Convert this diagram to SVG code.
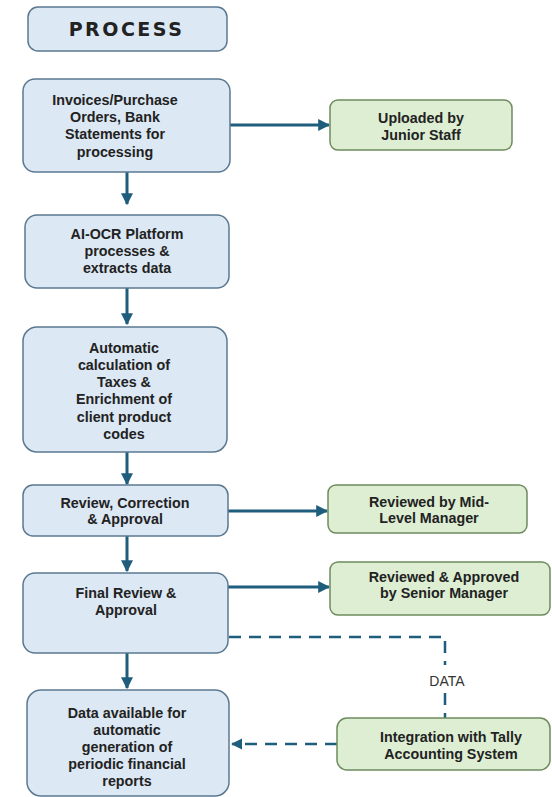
<svg xmlns="http://www.w3.org/2000/svg" width="552" height="797" viewBox="0 0 552 797">
<style>
.blue{fill:#dce8f4;stroke:#5b7891;stroke-width:1.5}
.green{fill:#ddeed2;stroke:#6e8b5e;stroke-width:1.5}
text{font-family:"Liberation Sans",Arial,sans-serif;font-weight:bold;font-size:14.3px;fill:#222;text-anchor:middle}
.title{font-family:"DejaVu Sans","Liberation Sans",sans-serif;font-size:19px;letter-spacing:2.5px}
.lbl{font-weight:normal;font-size:14px;fill:#333}
.arr{stroke:#1f5d7d;stroke-width:3;fill:none}
.dash{stroke:#1f5d7d;stroke-width:2.5;fill:none;stroke-dasharray:12 8}
</style>
<defs>
<marker id="ah" viewBox="0 0 10 10" refX="9" refY="5" markerWidth="4" markerHeight="4" orient="auto" markerUnits="strokeWidth">
<path d="M0,0 L10,5 L0,10 z" fill="#1f5d7d"/>
</marker>
<marker id="ah2" viewBox="0 0 10 10" refX="9" refY="5" markerWidth="4.5" markerHeight="4.5" orient="auto" markerUnits="strokeWidth">
<path d="M0,0 L10,5 L0,10 z" fill="#1f5d7d"/>
</marker>
</defs>
<rect width="552" height="797" fill="#fff"/>
<g id="connectors">
<line class="arr" x1="127" y1="172" x2="127" y2="204" marker-end="url(#ah)"/>
<line class="arr" x1="230" y1="125" x2="329" y2="125" marker-end="url(#ah)"/>
<line class="arr" x1="127" y1="288" x2="127" y2="324" marker-end="url(#ah)"/>
<line class="arr" x1="127" y1="452" x2="127" y2="484" marker-end="url(#ah)"/>
<line class="arr" x1="228" y1="511" x2="327" y2="511" marker-end="url(#ah)"/>
<line class="arr" x1="127" y1="536" x2="127" y2="571" marker-end="url(#ah)"/>
<line class="arr" x1="228" y1="587" x2="329" y2="587" marker-end="url(#ah)"/>
<line class="arr" x1="127" y1="653" x2="127" y2="688" marker-end="url(#ah)"/>
<path class="dash" d="M229,637 H445 V665"/>
<path class="dash" d="M445,693 V718"/>
<text class="lbl" x="447" y="686">DATA</text>
<line class="dash" x1="337" y1="744" x2="232" y2="744" marker-end="url(#ah2)"/>
</g>
<g id="process">
<rect class="blue" x="28" y="7" width="199" height="44" rx="10"/>
<text class="title" x="126.5" y="36">PROCESS</text>
</g>
<g id="invoices">
<rect class="blue" x="23" y="79" width="207" height="93" rx="12"/>
<text x="115" y="105">Invoices/Purchase</text>
<text x="115" y="122">Orders, Bank</text>
<text x="115" y="139">Statements for</text>
<text x="115" y="157">processing</text>
</g>
<g id="uploaded">
<rect class="green" x="330" y="100" width="182" height="50" rx="8"/>
<text x="421" y="123">Uploaded by</text>
<text x="421" y="140">Junior Staff</text>
</g>
<g id="aiocr">
<rect class="blue" x="25" y="215" width="204" height="73" rx="12"/>
<text x="127" y="239">AI-OCR Platform</text>
<text x="127" y="256">processes &amp;</text>
<text x="127" y="273">extracts data</text>
</g>
<g id="automatic">
<rect class="blue" x="23" y="327" width="204" height="125" rx="14"/>
<text x="124" y="353">Automatic</text>
<text x="124" y="370">calculation of</text>
<text x="124" y="387">Taxes &amp;</text>
<text x="124" y="404">Enrichment of</text>
<text x="124" y="422">client product</text>
<text x="124" y="439">codes</text>
</g>
<g id="review">
<rect class="blue" x="23" y="485" width="205" height="51" rx="10"/>
<text x="125" y="508">Review, Correction</text>
<text x="125" y="524">&amp; Approval</text>
</g>
<g id="midlevel">
<rect class="green" x="328" y="485" width="199" height="48" rx="8"/>
<text x="429" y="507">Reviewed by Mid-</text>
<text x="429" y="523">Level Manager</text>
</g>
<g id="final">
<rect class="blue" x="23" y="573" width="205" height="80" rx="12"/>
<text x="126" y="598">Final Review &amp;</text>
<text x="126" y="615">Approval</text>
</g>
<g id="senior">
<rect class="green" x="330" y="562" width="220" height="53" rx="8"/>
<text x="444" y="582">Reviewed &amp; Approved</text>
<text x="444" y="598">by Senior Manager</text>
</g>
<g id="data">
<rect class="blue" x="27" y="690" width="202" height="106" rx="14"/>
<text x="127" y="718">Data available for</text>
<text x="127" y="735">automatic</text>
<text x="127" y="752">generation of</text>
<text x="127" y="769">periodic financial</text>
<text x="127" y="786">reports</text>
</g>
<g id="tally">
<rect class="green" x="337" y="718" width="213" height="52" rx="10"/>
<text x="451" y="742">Integration with Tally</text>
<text x="451" y="759">Accounting System</text>
</g>
</svg>
